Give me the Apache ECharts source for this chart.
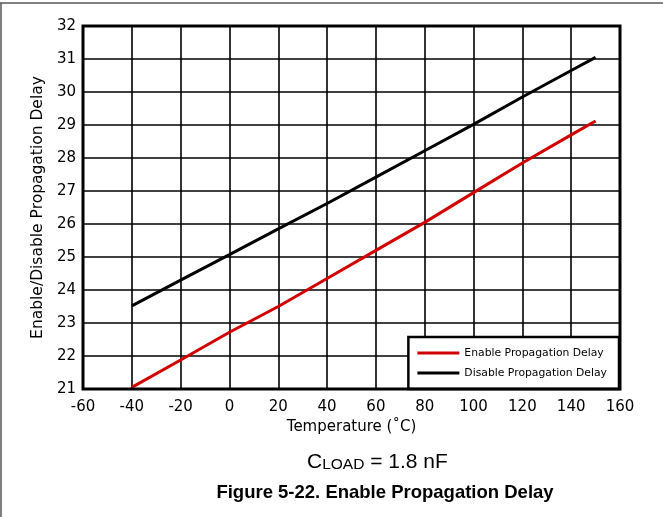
<!DOCTYPE html>
<html>
<head>
<meta charset="utf-8">
<script src="https://cdn.jsdelivr.net/npm/echarts@6/dist/echarts.min.js"></script>
<style>
html,body{margin:0;padding:0;background:#fff;}
#c{width:663px;height:517px;}
</style>
</head>
<body>
<div id="c"></div>
<script>
var temps = [-40, -20, 0, 20, 40, 60, 80, 100, 120, 140, 150];
var enableDelay = [21.05, 21.88, 22.72, 23.5, 24.35, 25.2, 26.05, 26.95, 27.85, 28.7, 29.12];
var disableDelay = [23.52, 24.3, 25.07, 25.85, 26.62, 27.42, 28.22, 29.02, 29.85, 30.65, 31.05];
var seriesNames = ['Enable Propagation Delay', 'Disable Propagation Delay'];
var xTitle = 'Temperature (˚C)';
var yTitle = 'Enable/Disable Propagation Delay';
var figTitle = 'Figure 5-22. Enable Propagation Delay';

function pairs(xs, ys){ return xs.map(function(x,i){ return [x, ys[i]]; }); }

var chart = echarts.init(document.getElementById('c'), null, {renderer:'canvas'});
var cfont = '"DejaVu Sans", Verdana, sans-serif';
var font = 'Arial, "Liberation Sans", Helvetica, sans-serif';
chart.setOption({
  animation: false,
  backgroundColor: '#fff',
  textStyle: {fontFamily: cfont},
  grid: {left: 83, right: 43, top: 26, bottom: 128, containLabel: false},
  xAxis: {
    type: 'value', min: -60, max: 160, interval: 20,
    name: xTitle, nameLocation: 'middle', nameGap: 28,
    nameTextStyle: {color: '#000', fontSize: 15, fontFamily: cfont},
    axisLine: {show: false},
    axisTick: {show: false},
    axisLabel: {color: '#000', fontSize: 15, margin: 11, fontFamily: cfont},
    splitLine: {show: true, lineStyle: {color: '#000', width: 1.6}}
  },
  yAxis: {
    type: 'value', min: 21, max: 32, interval: 1,
    name: yTitle, nameLocation: 'middle', nameGap: 32,
    nameTextStyle: {color: '#000', fontSize: 15.5, fontFamily: cfont},
    axisLine: {show: false},
    axisTick: {show: false},
    axisLabel: {color: '#000', fontSize: 15, margin: 7, fontFamily: cfont},
    splitLine: {show: true, lineStyle: {color: '#000', width: 1.6}}
  },
  legend: {
    orient: 'vertical',
    right: 44, bottom: 128,
    backgroundColor: '#fff',
    borderColor: '#000', borderWidth: 2.5, borderRadius: 0,
    padding: [10.5, 12, 10.5, 9],
    itemWidth: 42, itemHeight: 3, itemGap: 9,
    icon: 'rect',
    textStyle: {color: '#000', fontSize: 10.8, fontFamily: cfont},
    data: seriesNames
  },
  series: [
    {
      name: seriesNames[0], type: 'line', data: pairs(temps, enableDelay),
      showSymbol: false, symbol: 'none', color: '#d10000',
      lineStyle: {color: '#d10000', width: 3}, z: 3
    },
    {
      name: seriesNames[1], type: 'line', data: pairs(temps, disableDelay),
      showSymbol: false, symbol: 'none', color: '#000',
      lineStyle: {color: '#000', width: 3}, z: 3
    }
  ],
  graphic: [
    {type: 'rect', shape: {x: 83, y: 26, width: 537, height: 363}, style: {fill: 'none', stroke: '#000', lineWidth: 3}, z: 10, silent: true},
    {type: 'line', shape: {x1: 0, y1: 3, x2: 663, y2: 3}, style: {stroke: '#555', lineWidth: 1.5}},
    {type: 'line', shape: {x1: 1, y1: 3, x2: 1, y2: 517}, style: {stroke: '#555', lineWidth: 1.5}},
    {type: 'text', x: 307, y: 449,
      style: {
        text: '{a|C}{b|LOAD}{a| = 1.8 nF}',
        rich: {
          a: {fontSize: 21, lineHeight: 24, fill: '#000', fontFamily: font, verticalAlign: 'bottom'},
          b: {fontSize: 15.5, lineHeight: 15, fill: '#000', fontFamily: font, verticalAlign: 'bottom'}
        }
      }
    },
    {type: 'text', x: 385, y: 483,
      style: {text: figTitle, fontSize: 18.5, fontWeight: 'bold', fill: '#000', fontFamily: font, textAlign: 'center', lineHeight: 19}
    }
  ]
});
</script>
</body>
</html>
